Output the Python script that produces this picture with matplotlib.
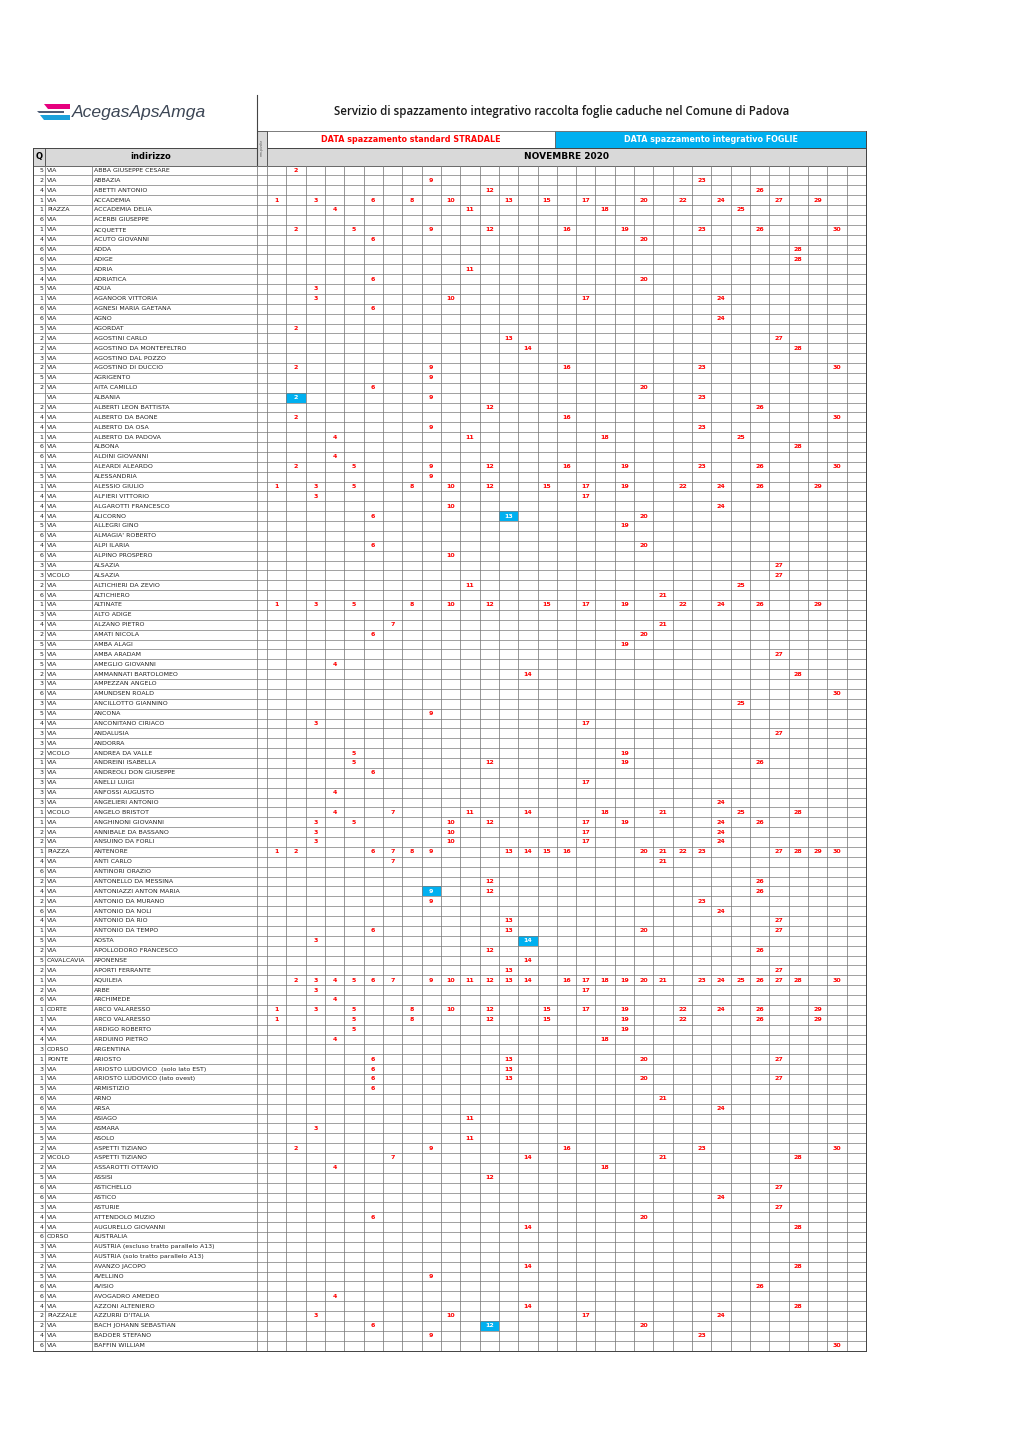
import matplotlib
matplotlib.use('Agg')
import matplotlib.pyplot as plt
from matplotlib.patches import Rectangle, Polygon

# ---- data ----
quartiere = [5, 2, 4, 1, 1, 6, 1, 4, 6, 6,
             5, 4, 5, 1, 6, 6, 5, 2, 2, 3,
             2, 5, 2, None, 2, 4, 4, 1, 6, 6,
             1, 5, 1, 4, 4, 4, 5, 6, 4, 6,
             3, 3, 2, 6, 1, 3, 4, 2, 5, 5,
             5, 2, 3, 6, 3, 5, 4, 3, 3, 2,
             1, 3, 3, 3, 3, 1, 1, 2, 2, 1,
             4, 6, 2, 4, 2, 6, 4, 1, 5, 2,
             5, 2, 1, 2, 6, 1, 1, 4, 4, 3,
             1, 3, 1, 5, 6, 6, 5, 5, 5, 2,
             2, 2, 5, 6, 6, 3, 4, 4, 6, 3,
             3, 2, 5, 6, 6, 4, 2, 2, 4, 6]

tipo = ['VIA'] * 120
for idx, t in {4: 'PIAZZA', 41: 'VICOLO', 59: 'VICOLO', 65: 'VICOLO', 69: 'PIAZZA',
               80: 'CAVALCAVIA', 85: 'CORTE', 89: 'CORSO', 90: 'PONTE',
               100: 'VICOLO', 108: 'CORSO', 116: 'PIAZZALE'}.items():
    tipo[idx] = t

indirizzo = [
    'ABBA GIUSEPPE CESARE', 'ABBAZIA', 'ABETTI ANTONIO', 'ACCADEMIA', 'ACCADEMIA DELIA',
    'ACERBI GIUSEPPE', 'ACQUETTE', 'ACUTO GIOVANNI', 'ADDA', 'ADIGE',
    'ADRIA', 'ADRIATICA', 'ADUA', 'AGANOOR VITTORIA', 'AGNESI MARIA GAETANA',
    'AGNO', 'AGORDAT', 'AGOSTINI CARLO', 'AGOSTINO DA MONTEFELTRO', 'AGOSTINO DAL POZZO',
    'AGOSTINO DI DUCCIO', 'AGRIGENTO', 'AITA CAMILLO', 'ALBANIA', 'ALBERTI LEON BATTISTA',
    'ALBERTO DA BAONE', 'ALBERTO DA OSA', 'ALBERTO DA PADOVA', 'ALBONA', 'ALDINI GIOVANNI',
    'ALEARDI ALEARDO', 'ALESSANDRIA', 'ALESSIO GIULIO', 'ALFIERI VITTORIO', 'ALGAROTTI FRANCESCO',
    'ALICORNO', 'ALLEGRI GINO', "ALMAGIA' ROBERTO", 'ALPI ILARIA', 'ALPINO PROSPERO',
    'ALSAZIA', 'ALSAZIA', 'ALTICHIERI DA ZEVIO', 'ALTICHIERO', 'ALTINATE',
    'ALTO ADIGE', 'ALZANO PIETRO', 'AMATI NICOLA', 'AMBA ALAGI', 'AMBA ARADAM',
    'AMEGLIO GIOVANNI', 'AMMANNATI BARTOLOMEO', 'AMPEZZAN ANGELO', 'AMUNDSEN ROALD', 'ANCILLOTTO GIANNINO',
    'ANCONA', 'ANCONITANO CIRIACO', 'ANDALUSIA', 'ANDORRA', 'ANDREA DA VALLE',
    'ANDREINI ISABELLA', 'ANDREOLI DON GIUSEPPE', 'ANELLI LUIGI', 'ANFOSSI AUGUSTO', 'ANGELIERI ANTONIO',
    'ANGELO BRISTOT', 'ANGHINONI GIOVANNI', 'ANNIBALE DA BASSANO', 'ANSUINO DA FORLI', 'ANTENORE',
    'ANTI CARLO', 'ANTINORI ORAZIO', 'ANTONELLO DA MESSINA', 'ANTONIAZZI ANTON MARIA', 'ANTONIO DA MURANO',
    'ANTONIO DA NOLI', 'ANTONIO DA RIO', 'ANTONIO DA TEMPO', 'AOSTA', 'APOLLODORO FRANCESCO',
    'APONENSE', 'APORTI FERRANTE', 'AQUILEIA', 'ARBE', 'ARCHIMEDE',
    'ARCO VALARESSO', 'ARCO VALARESSO', 'ARDIGO ROBERTO', 'ARDUINO PIETRO', 'ARGENTINA',
    'ARIOSTO', 'ARIOSTO LUDOVICO  (solo lato EST)', 'ARIOSTO LUDOVICO (lato ovest)', 'ARMISTIZIO', 'ARNO',
    'ARSA', 'ASIAGO', 'ASMARA', 'ASOLO', 'ASPETTI TIZIANO',
    'ASPETTI TIZIANO', 'ASSAROTTI OTTAVIO', 'ASSISI', 'ASTICHELLO', 'ASTICO',
    'ASTURIE', 'ATTENDOLO MUZIO', 'AUGURELLO GIOVANNI', 'AUSTRALIA', 'AUSTRIA (escluso tratto parallelo A13)',
    'AUSTRIA (solo tratto parallelo A13)', 'AVANZO JACOPO', 'AVELLINO', 'AVISIO', 'AVOGADRO AMEDEO',
    'AZZONI ALTENIERO', "AZZURRI D'ITALIA", 'BACH JOHANN SEBASTIAN', 'BADOER STEFANO', 'BAFFIN WILLIAM',
]

giorni = [
    [2], [9, 23], [12, 26], [1, 3, 6, 8, 10, 13, 15, 17, 20, 22, 24, 27, 29], [4, 11, 18, 25],
    [], [2, 5, 9, 12, 16, 19, 23, 26, 30], [6, 20], [28], [28],
    [11], [6, 20], [3], [3, 10, 17, 24], [6],
    [24], [2], [13, 27], [14, 28], [],
    [2, 9, 16, 23, 30], [9], [6, 20], [2, 9, 23], [12, 26],
    [2, 16, 30], [9, 23], [4, 11, 18, 25], [28], [4],
    [2, 5, 9, 12, 16, 19, 23, 26, 30], [9], [1, 3, 5, 8, 10, 12, 15, 17, 19, 22, 24, 26, 29], [3, 17], [10, 24],
    [6, 13, 20], [19], [], [6, 20], [10],
    [27], [27], [11, 25], [21], [1, 3, 5, 8, 10, 12, 15, 17, 19, 22, 24, 26, 29],
    [], [7, 21], [6, 20], [19], [27],
    [4], [14, 28], [], [30], [25],
    [9], [3, 17], [27], [], [5, 19],
    [5, 12, 19, 26], [6], [17], [4], [24],
    [4, 7, 11, 14, 18, 21, 25, 28], [3, 5, 10, 12, 17, 19, 24, 26], [3, 10, 17, 24], [3, 10, 17, 24],
    [1, 2, 6, 7, 8, 9, 13, 14, 15, 16, 20, 21, 22, 23, 27, 28, 29, 30],
    [7, 21], [], [12, 26], [9, 12, 26], [9, 23],
    [24], [13, 27], [6, 13, 20, 27], [3, 14], [12, 26],
    [14], [13, 27], [2, 3, 4, 5, 6, 7, 9, 10, 11, 12, 13, 14, 16, 17, 18, 19, 20, 21, 23, 24, 25, 26, 27, 28, 30],
    [3, 17], [4],
    [1, 3, 5, 8, 10, 12, 15, 17, 19, 22, 24, 26, 29], [1, 5, 8, 12, 15, 19, 22, 26, 29], [5, 19], [4, 18], [],
    [6, 13, 20, 27], [6, 13], [6, 13, 20, 27], [6], [21],
    [24], [11], [3], [11], [2, 9, 16, 23, 30],
    [7, 14, 21, 28], [4, 18], [12], [27], [24],
    [27], [6, 20], [14, 28], [], [],
    [], [14, 28], [9], [26], [4],
    [14, 28], [3, 10, 17, 24], [6, 12, 20], [9, 23], [30],
]

# spazzamento integrativo foglie (row index, day)
integrativo = [(23, 2), (35, 13), (73, 9), (78, 14), (117, 12)]

n_giorni = 31
titolo = 'Servizio di spazzamento integrativo raccolta foglie caduche nel Comune di Padova'
mese = 'NOVEMBRE 2020'

# ---- layout ----
W, H = 1020, 1442
fig = plt.figure(figsize=(W / 100, H / 100), dpi=100)
ax = fig.add_axes([0, 0, 1, 1])
ax.set_xlim(0, W)
ax.set_ylim(H, 0)
ax.axis('off')

FONT = ['Liberation Sans Narrow', 'DejaVu Sans']
RED = '#FF0000'
BLUE = '#00B0F0'
GRID = '#7a7a7a'

x_q, x_tipo, x_nome, x_mm, x_g0, x_end = 33, 45, 92, 257, 267, 866
col_w = (x_end - x_g0) / n_giorni
top = 165.5
row_h = 9.875
n = len(indirizzo)
bottom = top + n * row_h

# logo
ax.add_patch(Polygon([(44, 103.5), (70, 103.5), (70, 108.5), (48, 108.5)], color='#e6007e', lw=0))
ax.add_patch(Polygon([(37, 110.5), (64, 110.5), (64, 112.5), (39, 112.5)], color='#4f5d75', lw=0))
ax.add_patch(Polygon([(40, 114.5), (70, 114.5), (70, 119.5), (44, 119.5)], color='#1ba1db', lw=0))
ax.text(72, 112, 'AcegasApsAmga', fontsize=12.6, style='italic', color='#3c4655',
        family=['Liberation Sans', 'DejaVu Sans'], va='center', ha='left')

ax.plot([x_mm, x_mm], [95, top], color='#444444', lw=0.8)
ax.text(562, 112, titolo, fontsize=8.3, fontweight='semibold', color='#1a1a1a',
        family=['Open Sans', 'DejaVu Sans'], ha='center', va='center')

# legend row
mid = 555
ax.add_patch(Rectangle((x_g0, 131), mid - x_g0, 17, facecolor='white', edgecolor='#666666', lw=0.6))
ax.add_patch(Rectangle((mid, 131), x_end - mid, 17, facecolor=BLUE, edgecolor='#666666', lw=0.6))
ax.text((x_g0 + mid) / 2, 139.5, 'DATA spazzamento standard STRADALE', color=RED, fontsize=5.8,
        fontweight='bold', family=FONT, ha='center', va='center')
ax.text((mid + x_end) / 2, 139.5, 'DATA spazzamento integrativo FOGLIE', color='white', fontsize=5.8,
        fontweight='bold', family=FONT, ha='center', va='center')

# header row
ax.add_patch(Rectangle((x_q, 148), x_end - x_q, top - 148, facecolor='#d9d9d9',
                       edgecolor='#444444', lw=0.7))
ax.add_patch(Rectangle((x_mm, 131), x_g0 - x_mm, top - 131, facecolor='#d9d9d9',
                       edgecolor='#444444', lw=0.6))
ax.text(x_mm + 5, 147, 'mm-pivolte', rotation=90, fontsize=2.2, color='#555555',
        family=FONT, ha='center', va='center')
ax.text((x_q + x_tipo) / 2, 156.5, 'Q', fontsize=6, fontweight='bold', family=FONT,
        ha='center', va='center')
ax.text((x_tipo + x_mm) / 2, 156.5, 'indirizzo', fontsize=6, fontweight='bold', family=FONT,
        ha='center', va='center')
ax.text((x_g0 + x_end) / 2, 156.5, mese, fontsize=6.5, fontweight='bold', family=FONT,
        ha='center', va='center')
ax.plot([x_tipo, x_tipo], [148, top], color='#444444', lw=0.6)

# grid
for i in range(n + 1):
    y = top + i * row_h
    ax.plot([x_q, x_end], [y, y], color=GRID, lw=0.5)
for x in [x_q, x_tipo, x_nome, x_mm] + [x_g0 + k * col_w for k in range(n_giorni + 1)]:
    ax.plot([x, x], [top, bottom], color=GRID, lw=0.55)
ax.plot([x_q, x_q], [148, bottom], color='#444444', lw=0.7)
ax.plot([x_end, x_end], [131, bottom], color='#444444', lw=0.7)
ax.plot([x_q, x_end], [bottom, bottom], color='#444444', lw=0.7)

blu = set(integrativo)
fs = 4.5
for i in range(n):
    yc = top + (i + 0.5) * row_h
    if quartiere[i] is not None:
        ax.text(x_tipo - 1.5, yc, str(quartiere[i]), fontsize=fs, family=FONT, ha='right',
                va='center', color='#222222')
    ax.text(x_tipo + 2, yc, tipo[i], fontsize=fs, family=FONT, ha='left', va='center', color='#222222')
    ax.text(x_nome + 2, yc, indirizzo[i], fontsize=fs, family=FONT, ha='left', va='center',
            color='#222222')
    for d in giorni[i]:
        xc = x_g0 + (d - 0.5) * col_w
        if (i, d) in blu:
            ax.add_patch(Rectangle((x_g0 + (d - 1) * col_w, top + i * row_h), col_w, row_h,
                                   facecolor=BLUE, edgecolor='none'))
            color = 'white'
        else:
            color = RED
        ax.text(xc, yc, str(d), fontsize=fs, fontweight='bold', family=FONT, ha='center',
                va='center', color=color)

fig.savefig('out.png', dpi=100)
